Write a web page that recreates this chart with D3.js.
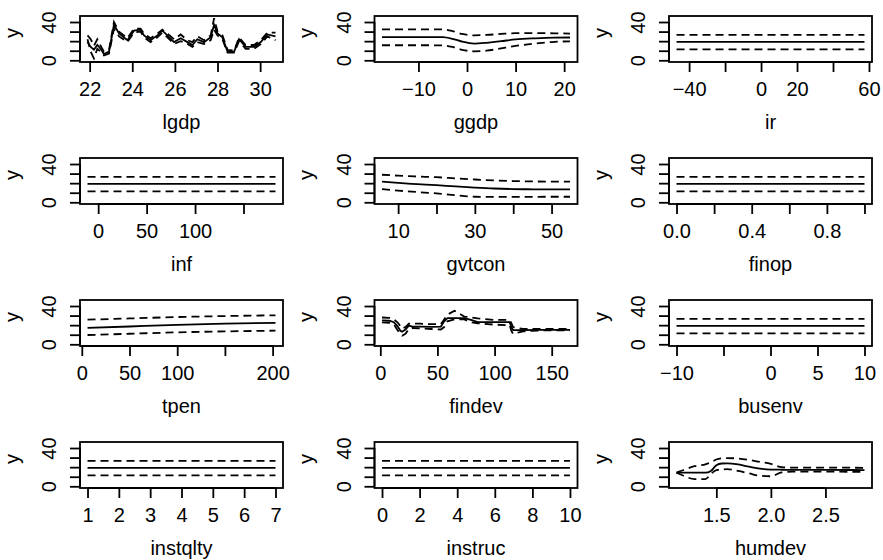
<!DOCTYPE html>
<html>
<head>
<meta charset="utf-8">
<script src="https://cdn.jsdelivr.net/npm/d3@7"></script>
<style>
  body { margin: 0; background: #fff; }
  svg { display: block; }
  text { font-family: "Liberation Sans", Arial, Helvetica, sans-serif; fill: #000; }
</style>
</head>
<body>
<div id="chart"></div>
<script>
// ---- data ----
var yTicks = [0, 10, 20, 30, 40];
var yTickLabels = ["0", "", "", "", "40"];
var yLimits = [0, 44.5];

var lgdpX     = [21.9, 22.05, 22.2, 22.36, 22.52, 22.67, 22.91, 23.14, 23.38, 23.77, 24.08, 24.39, 24.55, 24.86, 25.18, 25.41, 25.65, 25.96, 26.27, 26.59, 26.82, 27.05, 27.37, 27.68, 27.84, 28.0, 28.23, 28.47, 28.78, 29.01, 29.32, 29.71, 30.03, 30.34, 30.72];
var lgdpFit   = [19, 14, 11, 16, 12, 6.5, 9, 37, 28, 21, 31, 32, 26, 21, 26, 31, 26, 19, 23, 19, 16, 22, 19, 24, 37, 28, 24, 9, 9, 22, 14, 14, 19, 27, 25];
var lgdpUpper = [26, 22, 15, 22, 15, 9, 11, 40, 30, 23, 33, 33, 28, 23, 28, 32, 28, 22, 27, 21, 19, 25, 21, 26, 44, 30, 26, 11, 10, 24, 16, 16, 21, 29, 29];
var lgdpLower = [22, 9, 2, 12, 9, 5, 7, 33, 25, 19, 29, 30, 24, 19, 24, 29, 24, 17, 20, 17, 14, 19, 17, 21, 32, 26, 22, 8, 8, 20, 12, 12, 17, 25, 21];

var ggdpX     = [-17.5, -12, -8, -5, -3, -1, 1.5, 4, 7, 10, 14, 18, 21.2];
var ggdpFit   = [24.3, 24.3, 24.3, 24.2, 22.5, 19.5, 17.5, 18.3, 20, 21.8, 23, 23.7, 23.8];
var ggdpUpper = [32.4, 32.4, 32.4, 32.2, 30.5, 27.5, 26.1, 26.5, 27.5, 28.3, 28.4, 28.2, 27.9];
var ggdpLower = [15.7, 15.7, 15.7, 15.6, 14, 11, 9.4, 10, 12.5, 15, 17.5, 19.3, 19.8];

var flatFit   = [19.2, 19.2];
var flatUpper = [26.6, 26.6];
var flatLower = [11.5, 11.5];

var irX = [-47, 57.5];
var infX = [-11, 183];
var finopX = [0, 1];
var busenvX = [-10, 10];
var instqltyX = [1, 7];
var instrucX = [0, 10];

var gvtconX     = [5.8, 10, 15, 20, 25, 30, 35, 40, 45, 50, 54.8];
var gvtconFit   = [21.5, 20.2, 19, 17.9, 16.6, 15.4, 14.4, 13.8, 13.6, 13.5, 13.5];
var gvtconUpper = [28.8, 27.8, 26.9, 26.2, 25, 23.8, 22.8, 22.2, 21.8, 21.6, 21.5];
var gvtconLower = [13.8, 12.2, 10.7, 9.3, 7.3, 5.8, 5.6, 5.6, 5.7, 5.8, 5.8];

var tpenX     = [6, 50, 100, 150, 203];
var tpenFit   = [17.1, 18.6, 20.3, 21.5, 22.4];
var tpenUpper = [25.7, 27, 28.5, 29.5, 30.3];
var tpenLower = [9.7, 11, 12.5, 13.5, 14.2];

var findevX     = [1.5, 8, 11.8, 15, 17.6, 19.1, 22, 25, 28, 35, 45, 53, 55.9, 58.8, 65, 73.5, 79.4, 85.3, 100, 113.2, 114.7, 116.2, 125, 140, 166];
var findevFit   = [24.9, 24.6, 23.1, 19, 14.2, 13.2, 15.5, 19.6, 18.5, 18.5, 18.3, 18.5, 24, 27.4, 27.4, 27.4, 25.6, 23.1, 23.1, 23.1, 18, 14.9, 14.9, 15, 15];
var findevUpper = [28, 27.5, 26, 23, 19, 16.5, 18, 21.5, 21.5, 21.5, 21, 21, 26, 31, 35, 29, 28, 27, 25.5, 25.5, 22, 18, 16, 16, 16];
var findevLower = [23, 22.5, 21, 15, 10.5, 9, 11, 16, 17, 16.5, 16, 15.5, 18, 24, 26, 26, 23, 22, 20.5, 20, 14, 11, 13.5, 14.5, 14.5];

var humdevX     = [1.135, 1.2, 1.3, 1.4, 1.45, 1.5, 1.55, 1.6, 1.7, 1.8, 1.9, 2.0, 2.1, 2.2, 2.5, 2.858];
var humdevFit   = [14.2, 14.2, 14.2, 14.2, 16, 22, 23.8, 23.9, 22.8, 20.5, 18.5, 17.5, 17.3, 17.2, 17.1, 17];
var humdevUpper = [14.2, 17, 21, 23, 25, 28, 29.2, 29.5, 29, 27.5, 25.5, 23.5, 20, 19.5, 19.5, 19.3];
var humdevLower = [14.2, 11, 7.5, 7.5, 13, 17, 17.5, 18, 16, 13.5, 11, 10.5, 14.5, 15.3, 15.3, 15];

var panels = [
  { name: "lgdp",     x: lgdpX,     fit: lgdpFit,   upper: lgdpUpper,   lower: lgdpLower,   ticks: [22, 24, 26, 28, 30], labels: ["22", "24", "26", "28", "30"] },
  { name: "ggdp",     x: ggdpX,     fit: ggdpFit,   upper: ggdpUpper,   lower: ggdpLower,   ticks: [-10, 0, 10, 20], labels: ["\u221210", "0", "10", "20"] },
  { name: "ir",       x: irX,       fit: flatFit,   upper: flatUpper,   lower: flatLower,   ticks: [-40, -20, 0, 20, 40, 60], labels: ["\u221240", "", "0", "20", "", "60"] },
  { name: "inf",      x: infX,      fit: flatFit,   upper: flatUpper,   lower: flatLower,   ticks: [0, 50, 100, 150], labels: ["0", "50", "100", ""] },
  { name: "gvtcon",   x: gvtconX,   fit: gvtconFit, upper: gvtconUpper, lower: gvtconLower, ticks: [10, 20, 30, 40, 50], labels: ["10", "", "30", "", "50"] },
  { name: "finop",    x: finopX,    fit: flatFit,   upper: flatUpper,   lower: flatLower,   ticks: [0, 0.2, 0.4, 0.6, 0.8, 1.0], labels: ["0.0", "", "0.4", "", "0.8", ""] },
  { name: "tpen",     x: tpenX,     fit: tpenFit,   upper: tpenUpper,   lower: tpenLower,   ticks: [0, 50, 100, 150, 200], labels: ["0", "50", "100", "", "200"] },
  { name: "findev",   x: findevX,   fit: findevFit, upper: findevUpper, lower: findevLower, ticks: [0, 50, 100, 150], labels: ["0", "50", "100", "150"] },
  { name: "busenv",   x: busenvX,   fit: flatFit,   upper: flatUpper,   lower: flatLower,   ticks: [-10, -5, 0, 5, 10], labels: ["\u221210", "", "0", "5", "10"] },
  { name: "instqlty", x: instqltyX, fit: flatFit,   upper: flatUpper,   lower: flatLower,   ticks: [1, 2, 3, 4, 5, 6, 7], labels: ["1", "2", "3", "4", "5", "6", "7"] },
  { name: "instruc",  x: instrucX,  fit: flatFit,   upper: flatUpper,   lower: flatLower,   ticks: [0, 2, 4, 6, 8, 10], labels: ["0", "2", "4", "6", "8", "10"] },
  { name: "humdev",   x: humdevX,   fit: humdevFit, upper: humdevUpper, lower: humdevLower, ticks: [1.5, 2.0, 2.5], labels: ["1.5", "2.0", "2.5"] }
];

// ---- layout ----
var width = 883, height = 560;
var colLeft = [80, 374.5, 669];
var rowTop = [16, 158, 300, 442];
var plotW = 203, plotH = 46;
var tickLen = 10;
var lw = 1.8;

var svg = d3.select("#chart").append("svg")
  .attr("width", width)
  .attr("height", height);

svg.append("rect").attr("width", width).attr("height", height).attr("fill", "#fff");

// R style 4% extension of the data range
function extend(lo, hi) {
  var d = (hi - lo) * 0.04;
  return [lo - d, hi + d];
}

panels.forEach(function (p, i) {
  var left = colLeft[i % 3];
  var top = rowTop[Math.floor(i / 3)];
  var g = svg.append("g").attr("transform", "translate(" + left + "," + top + ")");

  var x = d3.scaleLinear()
    .domain(extend(d3.min(p.x), d3.max(p.x)))
    .range([0, plotW]);
  var y = d3.scaleLinear()
    .domain(extend(yLimits[0], yLimits[1]))
    .range([plotH, 0]);

  var line = d3.line()
    .x(function (d) { return x(d[0]); })
    .y(function (d) { return y(d[1]); });
  if (p.name !== "lgdp" && p.name !== "findev") line.curve(d3.curveMonotoneX);

  function series(vals) {
    return p.x.map(function (v, k) { return [v, vals[k]]; });
  }

  //bands
  [p.upper, p.lower].forEach(function (vals) {
    g.append("path")
      .attr("d", line(series(vals)))
      .attr("fill", "none")
      .attr("stroke", "#000")
      .attr("stroke-width", lw)
      .attr("stroke-dasharray", "8,5");
  });

  g.append("path")
    .attr("d", line(series(p.fit)))
    .attr("fill", "none")
    .attr("stroke", "#000")
    .attr("stroke-width", lw);

  // box
  g.append("rect")
    .attr("width", plotW)
    .attr("height", plotH)
    .attr("fill", "none")
    .attr("stroke", "#000")
    .attr("stroke-width", lw);

  // x axis
  var xAxis = d3.axisBottom(x)
    .tickValues(p.ticks)
    .tickSize(tickLen)
    .tickSizeOuter(0)
    .tickFormat(function (d, k) { return p.labels[k]; });
  var xa = g.append("g")
    .attr("transform", "translate(0," + plotH + ")")
    .call(xAxis);
  xa.select(".domain").attr("stroke-width", lw)
    .attr("d", "M" + x(p.ticks[0]) + ",0H" + x(p.ticks[p.ticks.length - 1]));
  xa.selectAll(".tick line").attr("stroke-width", lw);
  xa.selectAll(".tick text")
    .attr("y", 34).attr("dy", null)
    .attr("font-size", "20px")
    .attr("font-family", null);

  // y axis
  var yAxis = d3.axisLeft(y)
    .tickValues(yTicks)
    .tickSize(tickLen)
    .tickSizeOuter(0)
    .tickFormat(function (d, k) { return yTickLabels[k]; });
  var ya = g.append("g").call(yAxis);
  ya.select(".domain").attr("stroke-width", lw)
    .attr("d", "M0," + y(yTicks[0]) + "V" + y(yTicks[yTicks.length - 1]));
  ya.selectAll(".tick line").attr("stroke-width", lw);
  ya.selectAll(".tick text")
    .attr("x", null).attr("dy", null)
    .attr("transform", "translate(-24,0) rotate(-90)")
    .attr("text-anchor", "middle")
    .attr("font-size", "20px")
    .attr("font-family", null);

  // titles
  g.append("text")
    .attr("x", plotW / 2)
    .attr("y", plotH + 67)
    .attr("text-anchor", "middle")
    .attr("font-size", "20px")
    .text(p.name);

  g.append("text")
    .attr("transform", "translate(-61.5," + (plotH / 2 - 6) + ") rotate(-90)")
    .attr("text-anchor", "middle")
    .attr("font-size", "20px")
    .text("y");
});
</script>
</body>
</html>
